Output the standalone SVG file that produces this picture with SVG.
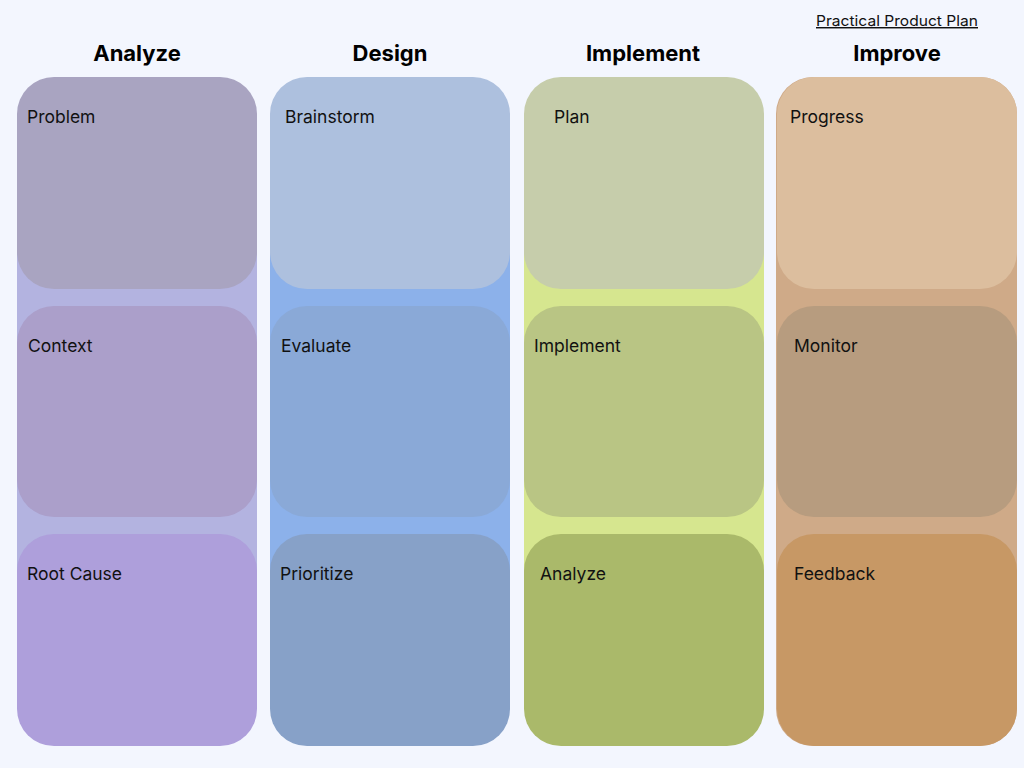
<svg xmlns="http://www.w3.org/2000/svg" width="1024" height="768" viewBox="0 0 1024 768">
<style>
.hdr{font-family:"Inter","Liberation Sans",sans-serif;font-weight:700;font-size:22px;fill:#000;text-anchor:middle}
.lbl{font-family:"Inter","Liberation Sans",sans-serif;font-size:17.5px;fill:#111}
.link{font-family:"Inter","Liberation Sans",sans-serif;font-size:14.5px;fill:#111;text-decoration:underline}
</style>
<rect x="0" y="0" width="1024" height="768" fill="#f3f6fe"/>
<text class="link" x="816" y="26" textLength="162" lengthAdjust="spacingAndGlyphs">Practical Product Plan</text>
<g id="col-analyze">
<rect x="17" y="160" width="240" height="500" fill="#b3b3e0"/>
<text class="hdr" x="137" y="61">Analyze</text>
<g id="problem"><rect x="17" y="77" width="240" height="212" rx="37" fill="#a9a4c1"/><text class="lbl" x="27" y="123">Problem</text></g>
<g id="context"><rect x="17" y="306" width="240" height="211" rx="37" fill="#ab9fca"/><text class="lbl" x="28" y="352">Context</text></g>
<g id="rootcause"><rect x="17" y="534" width="240" height="212" rx="37" fill="#ae9fdb"/><text class="lbl" x="27" y="580">Root Cause</text></g>
</g>
<g id="col-design">
<rect x="270" y="160" width="240" height="500" fill="#8cb1ea"/>
<text class="hdr" x="390" y="61">Design</text>
<g id="brainstorm"><rect x="270" y="77" width="240" height="212" rx="37" fill="#adc0de"/><text class="lbl" x="285" y="123">Brainstorm</text></g>
<g id="evaluate"><rect x="270" y="306" width="240" height="211" rx="37" fill="#8aa9d7"/><text class="lbl" x="281" y="352">Evaluate</text></g>
<g id="prioritize"><rect x="270" y="534" width="240" height="212" rx="37" fill="#87a1c8"/><text class="lbl" x="280" y="580">Prioritize</text></g>
</g>
<g id="col-implement">
<rect x="524" y="160" width="240" height="500" fill="#d6e68f"/>
<text class="hdr" x="643" y="61">Implement</text>
<g id="plan"><rect x="524" y="77" width="240" height="212" rx="37" fill="#c6cdab"/><text class="lbl" x="554" y="123">Plan</text></g>
<g id="implement"><rect x="524" y="306" width="240" height="211" rx="37" fill="#b9c584"/><text class="lbl" x="534" y="352">Implement</text></g>
<g id="analyze"><rect x="524" y="534" width="240" height="212" rx="37" fill="#aab96a"/><text class="lbl" x="540" y="580">Analyze</text></g>
</g>
<g id="col-improve">
<rect x="776" y="77" width="241" height="669" rx="37" fill="#cfaa88"/>
<text class="hdr" x="897" y="61">Improve</text>
<g id="progress"><rect x="777" y="77" width="240" height="212" rx="37" fill="#dcbe9e"/><text class="lbl" x="790" y="123">Progress</text></g>
<g id="monitor"><rect x="777" y="306" width="240" height="211" rx="37" fill="#b79c7f"/><text class="lbl" x="794" y="352">Monitor</text></g>
<g id="feedback"><rect x="777" y="534" width="240" height="212" rx="37" fill="#c79865"/><text class="lbl" x="794" y="580">Feedback</text></g>
</g>
<g id="connectors"/>
</svg>
